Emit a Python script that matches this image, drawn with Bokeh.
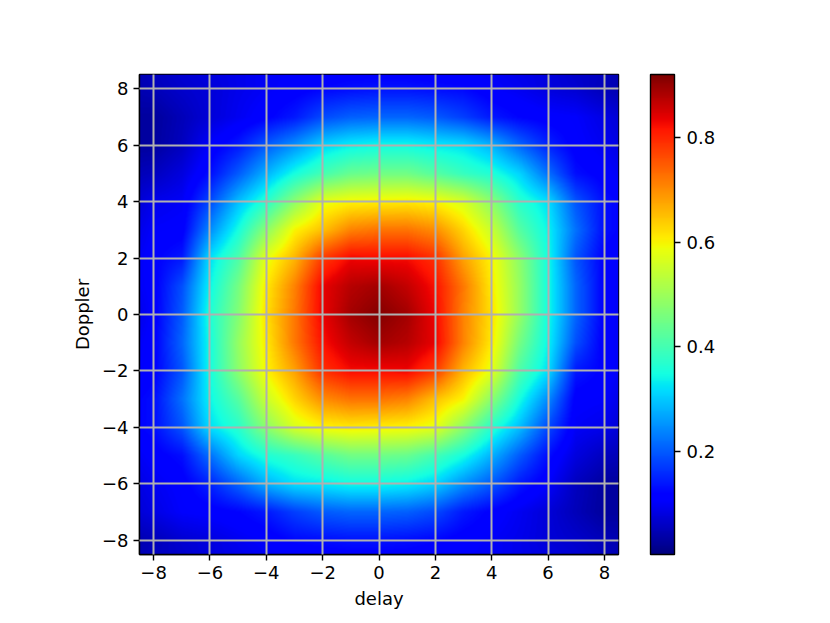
import numpy as np
from bokeh.embed import file_html
from bokeh.resources import INLINE
from bokeh.plotting import figure
from bokeh.models import (ColorBar, FixedTicker, LinearColorMapper, Range1d)

# Values at these grid nodes (x across, y rows top to bottom).
x_nodes = [-8.5, -8, -7, -6, -5, -4, -3, -2, -1, 0, 1, 2, 3, 4, 5, 6, 7, 8, 8.5]
y_nodes = [8.5, 8, 7, 6, 5, 4, 3, 2, 1, 0, -1, -2, -3, -4, -5, -6, -7, -8, -8.5]

row_p85 = [.045, .055, .07, .08, .09, .10, .105, .11, .115, .115, .115, .11, .105, .10, .09, .08, .065, .055, .045]
row_p8 = [.045, .05, .065, .075, .09, .10, .11, .122, .13, .135, .135, .13, .125, .105, .095, .08, .07, .05, .045]
row_p7 = [.03, .028, .05, .075, .095, .115, .14, .185, .205, .21, .21, .20, .175, .14, .12, .11, .105, .085, .075]
row_p6 = [.03, .03, .055, .105, .14, .20, .25, .31, .335, .345, .345, .33, .32, .28, .21, .15, .11, .095, .085]
row_p5 = [.05, .055, .08, .13, .20, .28, .35, .40, .44, .45, .45, .42, .385, .36, .31, .22, .13, .11, .10]
row_p4 = [.075, .09, .10, .185, .29, .37, .48, .58, .60, .605, .61, .60, .565, .48, .37, .32, .195, .13, .12]
row_p3 = [.09, .105, .11, .245, .35, .48, .60, .65, .71, .725, .725, .70, .63, .55, .42, .34, .22, .13, .12]
row_p2 = [.10, .115, .14, .32, .41, .58, .66, .78, .83, .825, .825, .79, .68, .60, .48, .35, .195, .115, .105]
row_p1 = [.10, .11, .19, .34, .455, .61, .71, .835, .875, .89, .865, .82, .72, .61, .49, .35, .21, .115, .10]
row_0 = [.09, .11, .20, .36, .47, .62, .72, .835, .89, .915, .89, .83, .71, .62, .49, .35, .21, .115, .10]
row_m1 = [.10, .115, .21, .35, .49, .61, .72, .82, .865, .89, .875, .835, .71, .61, .455, .34, .19, .11, .10]
row_m2 = [.105, .115, .195, .35, .48, .60, .68, .79, .825, .825, .83, .78, .66, .58, .41, .32, .14, .115, .10]
row_m3 = [.12, .13, .22, .34, .42, .55, .63, .70, .725, .725, .71, .65, .60, .48, .35, .245, .11, .105, .09]
row_m4 = [.12, .13, .195, .32, .37, .48, .565, .60, .61, .605, .60, .58, .48, .37, .29, .185, .10, .09, .075]
row_m5 = [.10, .11, .13, .22, .31, .36, .385, .42, .45, .45, .44, .40, .35, .28, .20, .13, .08, .055, .05]
row_m6 = [.085, .095, .11, .15, .21, .28, .32, .33, .345, .345, .335, .31, .25, .20, .14, .105, .055, .03, .03]
row_m7 = [.075, .085, .105, .11, .12, .14, .175, .20, .21, .21, .205, .185, .14, .115, .095, .075, .05, .028, .03]
row_m8 = [.045, .05, .07, .08, .095, .105, .125, .13, .135, .135, .13, .122, .11, .10, .09, .075, .065, .05, .045]
row_m85 = [.045, .055, .065, .08, .09, .10, .105, .11, .115, .115, .115, .11, .105, .10, .09, .08, .07, .055, .045]

rows = [row_p85, row_p8, row_p7, row_p6, row_p5, row_p4, row_p3, row_p2, row_p1, row_0,
        row_m1, row_m2, row_m3, row_m4, row_m5, row_m6, row_m7, row_m8, row_m85]

axis_ticks = [-8, -6, -4, -2, 0, 2, 4, 6, 8]
bar_ticks = [0.2, 0.4, 0.6, 0.8]
vmin, vmax = 0.003, 0.92
x_label, y_label = "delay", "Doppler"

# Display smoothing only: the picture is bilinear between the nodes read above,
# because Bokeh's image glyph cannot smooth by itself.
Z = np.array(rows)[::-1]
ys_asc = np.array(y_nodes)[::-1]
xs_asc = np.array(x_nodes)
px = np.linspace(-8.5, 8.5, 479)
py = np.linspace(-8.5, 8.5, 480)
by_x = np.array([np.interp(px, xs_asc, r) for r in Z])
shown = np.array([np.interp(py, ys_asc, c) for c in by_x.T]).T

# matplotlib "jet" colormap
t = np.linspace(0, 1, 256)
r = np.interp(t, [0, .35, .66, .89, 1], [0, 0, 1, 1, .5])
g = np.interp(t, [0, .125, .375, .64, .91, 1], [0, 0, 1, 1, 0, 0])
b = np.interp(t, [0, .11, .34, .65, 1], [.5, 1, 1, 0, 0])
jet = ["#%02x%02x%02x" % (int(a * 255), int(c * 255), int(d * 255)) for a, c, d in zip(r, g, b)]
mapper = LinearColorMapper(palette=jet, low=vmin, high=vmax)

FONT = "DejaVu Sans"
p = figure(frame_width=479, frame_height=480, x_range=Range1d(-8.5, 8.5), y_range=Range1d(-8.5, 8.5),
           output_backend="svg", toolbar_location=None, min_border_left=139, min_border_top=74,
           min_border_bottom=60, min_border_right=100, background_fill_color="white")
p.image(image=[shown], x=-8.5, y=-8.5, dw=17, dh=17, color_mapper=mapper)

for ax, lab in ((p.xaxis, x_label), (p.yaxis, y_label)):
    ax.ticker = FixedTicker(ticks=axis_ticks)
    ax.major_label_overrides = {k: str(k).replace("-", "\u2212") for k in axis_ticks}
    ax.axis_label = lab
    ax.axis_label_text_font = FONT
    ax.axis_label_text_font_size = "18px"
    ax.axis_label_text_font_style = "normal"
    ax.axis_label_text_color = "black"
    ax.major_label_text_font = FONT
    ax.major_label_text_font_size = "18px"
    ax.major_label_text_color = "black"
    ax.major_tick_in = 0
    ax.major_tick_out = 6
    ax.minor_tick_line_color = None
    ax.major_tick_line_width = 1.4
    ax.axis_line_width = 1.4
    ax.axis_line_color = "black"
    ax.major_tick_line_color = "black"
    ax.major_label_standoff = 5
p.xaxis.axis_label_standoff = 6
p.yaxis.axis_label_standoff = 6
p.yaxis.major_label_orientation = "horizontal"

p.grid.ticker = FixedTicker(ticks=axis_ticks)
p.grid.grid_line_color = "#b0b0b0"
p.grid.grid_line_width = 2
p.grid.level = "overlay"
p.outline_line_color = "black"
p.outline_line_width = 1.4

cb = ColorBar(color_mapper=mapper, ticker=FixedTicker(ticks=bar_ticks), width=24, height=480,
              location=(32, 0), padding=0, margin=0, border_line_color=None, bar_line_color="black",
              bar_line_width=1.4, major_tick_in=0, major_tick_out=6, major_tick_line_color="black",
              major_tick_line_width=1.4, minor_tick_line_color=None, label_standoff=6,
              major_label_text_font=FONT, major_label_text_color="black",
              major_label_text_font_size="18px", major_label_overrides={k: str(k) for k in bar_ticks})
p.add_layout(cb, "right")

open("out.html", "w").write(file_html(p, INLINE))
